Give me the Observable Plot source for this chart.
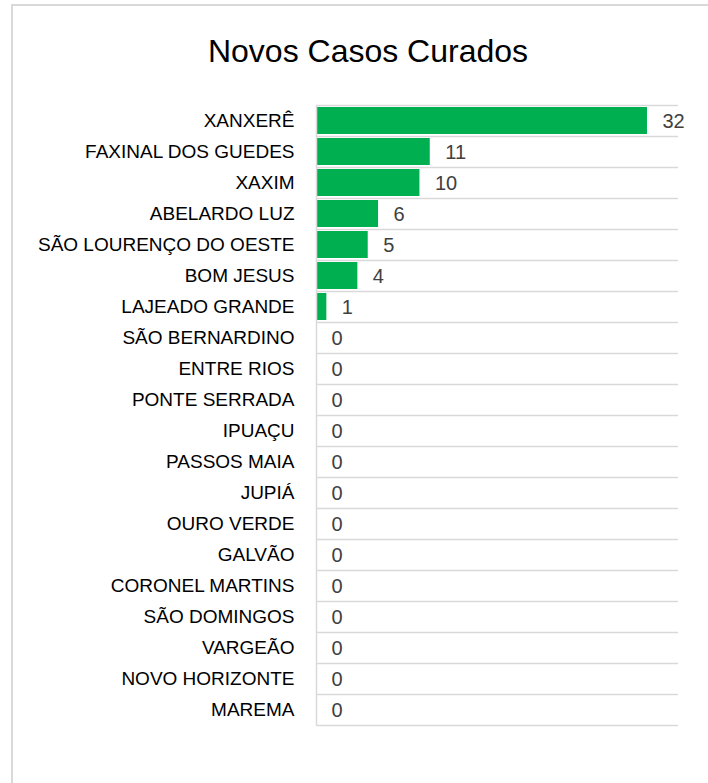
<!DOCTYPE html>
<html>
<head>
<meta charset="utf-8">
<script src="https://cdn.jsdelivr.net/npm/d3@7"></script>
<script src="https://cdn.jsdelivr.net/npm/@observablehq/plot@0.6"></script>
<style>
  html, body { margin: 0; padding: 0; background: #fff; }
  #wrap { position: relative; width: 708px; height: 783px; overflow: hidden; font-family: "Liberation Sans", Arial, sans-serif; }
  #bl { position: absolute; left: 11px; top: 4px; width: 2px; height: 779px; background: #d9d9d9; }
  #bt { position: absolute; left: 11px; top: 4px; width: 697px; height: 2px; background: #d9d9d9; }
  #title { position: absolute; left: 13px; width: 710px; top: 31px; line-height: 40px; text-align: center; font-size: 32px; color: #000; }
  #chart { position: absolute; left: 0; top: 91px; }
</style>
</head>
<body>
<div id="wrap">
  <div id="bl"></div>
  <div id="bt"></div>
  <div id="title">Novos Casos Curados</div>
  <div id="chart"></div>
</div>
<script>
const cities = ["XANXERÊ","FAXINAL DOS GUEDES","XAXIM","ABELARDO LUZ","SÃO LOURENÇO DO OESTE","BOM JESUS","LAJEADO GRANDE","SÃO BERNARDINO","ENTRE RIOS","PONTE SERRADA","IPUAÇU","PASSOS MAIA","JUPIÁ","OURO VERDE","GALVÃO","CORONEL MARTINS","SÃO DOMINGOS","VARGEÃO","NOVO HORIZONTE","MAREMA"];
const values = [32,11,10,6,5,4,1,0,0,0,0,0,0,0,0,0,0,0,0,0];
const data = cities.map((c, i) => ({city: c, value: values[i]}));

const marginTop = 14, marginBottom = 58, height = 692;
const bw = (height - marginTop - marginBottom) / cities.length;

const chart = Plot.plot({
  width: 708,
  height,
  marginLeft: 316,
  marginRight: 30,
  marginTop,
  marginBottom,
  style: {fontFamily: "'Liberation Sans', Arial, sans-serif", fontSize: "19px", color: "#000", background: "transparent"},
  x: {domain: [0, 35], axis: null},
  y: {domain: cities, padding: 0, label: null, tickSize: 0, tickPadding: 22},
  marks: [
    Plot.ruleY(cities, {y: d => d, x1: 0, x2: 35, dy: -bw / 2, stroke: "#d9d9d9", strokeWidth: 1.5}),
    Plot.ruleY([cities[cities.length - 1]], {y: d => d, x1: 0, x2: 35, dy: bw / 2, stroke: "#d9d9d9", strokeWidth: 1.5}),
    Plot.barX(data, {y: "city", x: "value", fill: "#00b050", insetTop: 2, insetBottom: 2}),
    Plot.ruleX([0], {stroke: "#d9d9d9", strokeWidth: 1.5}),
    Plot.text(data, {y: "city", x: "value", text: d => String(d.value), dx: 15, dy: 1, textAnchor: "start", fill: "#404040", fontSize: 20})
  ]
});
document.getElementById("chart").appendChild(chart);
</script>
</body>
</html>
